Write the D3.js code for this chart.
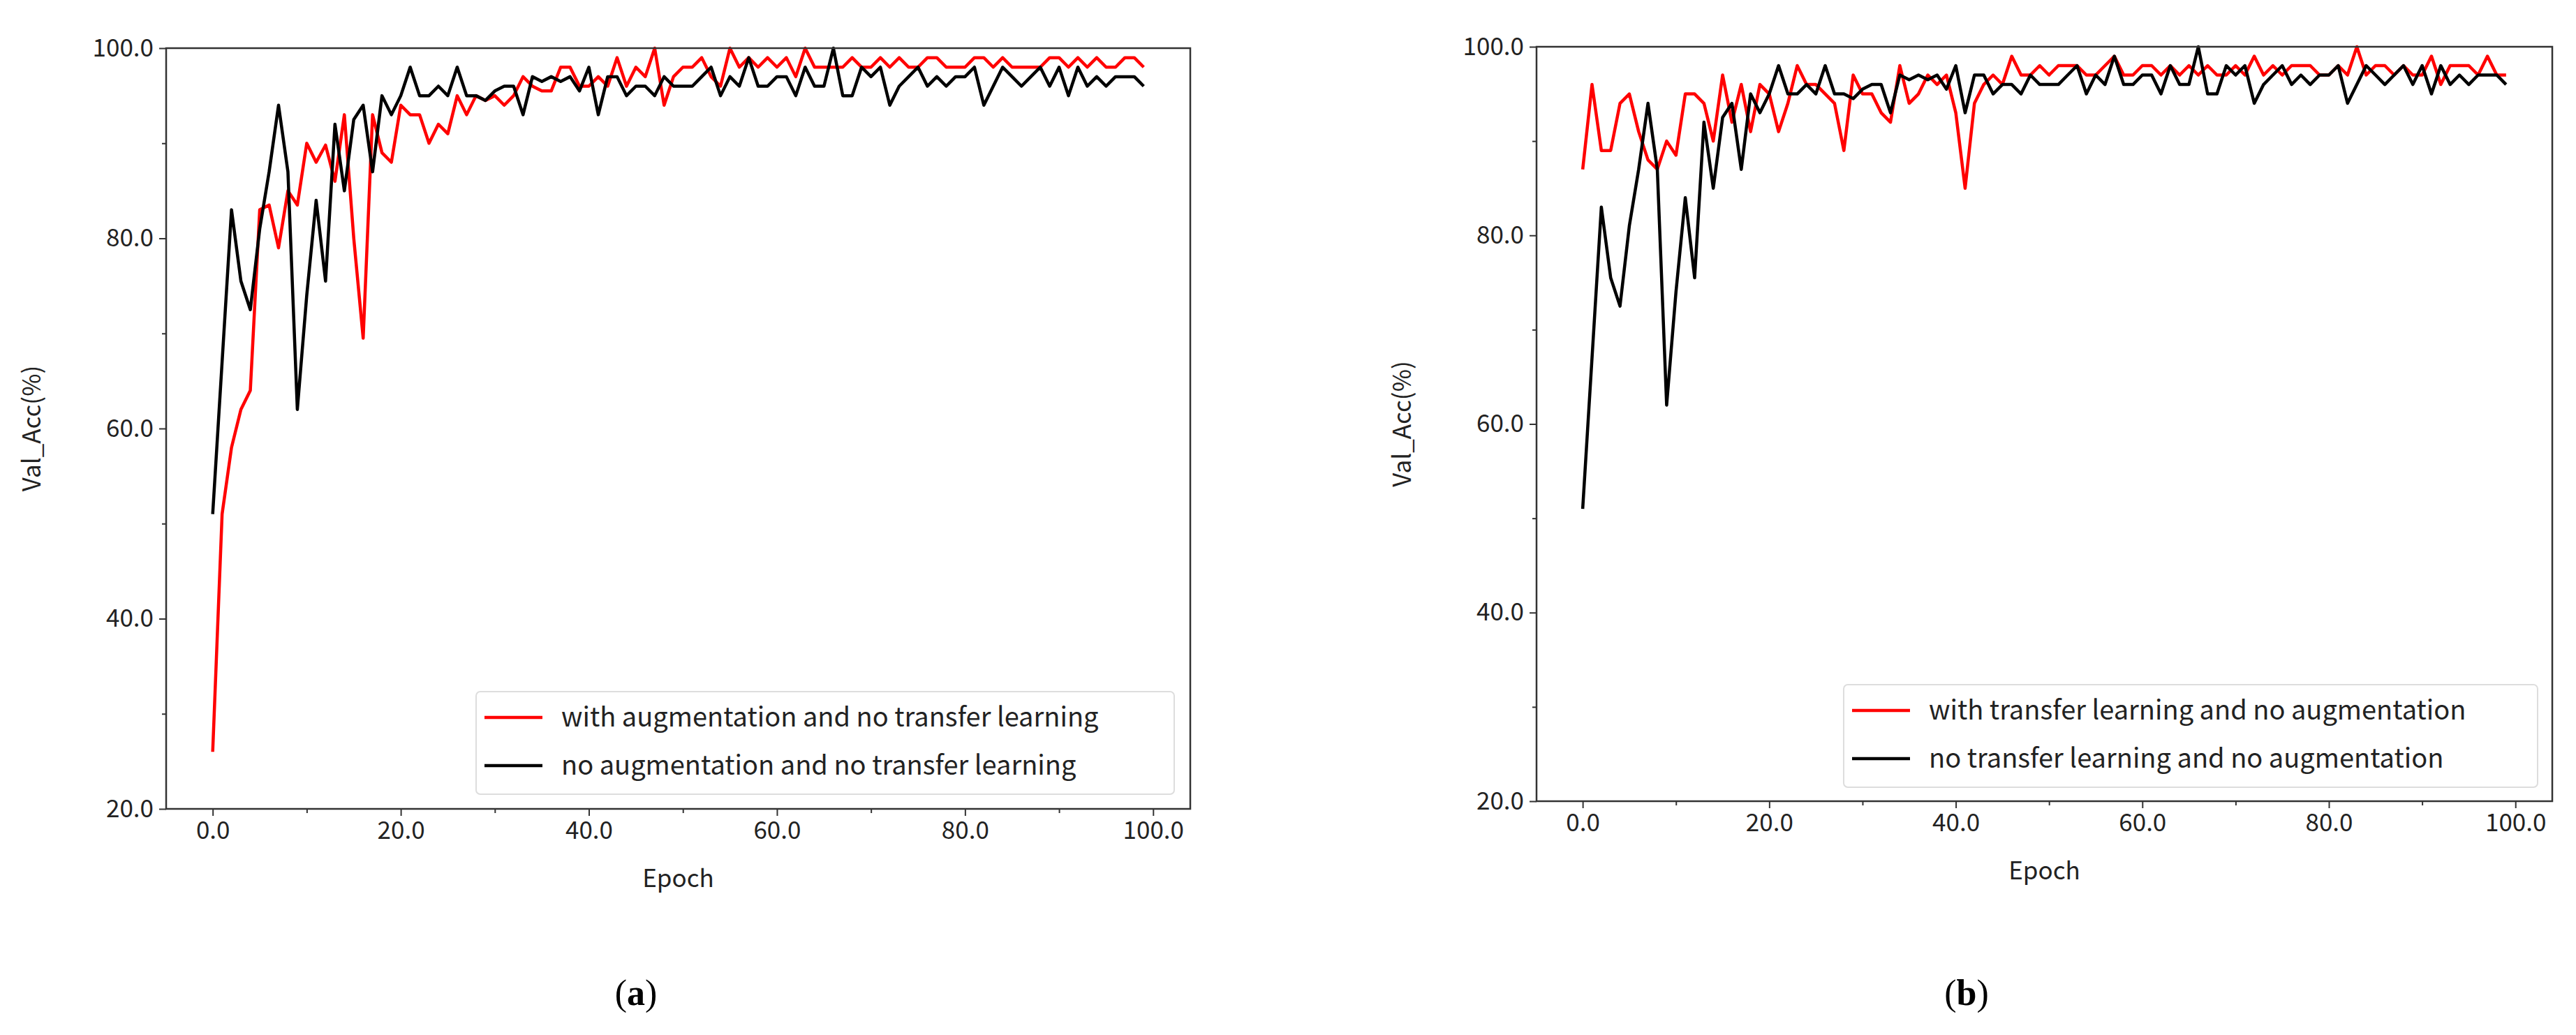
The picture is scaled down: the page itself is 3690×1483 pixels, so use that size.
<!DOCTYPE html>
<html><head><meta charset="utf-8">
<script src="https://cdn.jsdelivr.net/npm/d3@7"></script>
<style>body{margin:0;background:#fff}</style></head><body>
<svg id="c" width="3690" height="1483"></svg>
<script>
const epochs = d3.range(0,100);
const redA = [26,51,58,62,64,83,83.5,79,85,83.5,90,88,89.8,86,93,80,69.5,93,89,88,94,93,93,90,92,91,95,93,95,94.5,95,94,95,97,96,95.5,95.5,98,98,96,96,97,96,99,96,98,97,100,94,97,98,98,99,97,96,100,98,99,98,99,98,99,97,100,98,98,98,98,99,98,98,99,98,99,98,98,99,99,98,98,98,99,99,98,99,98,98,98,98,99,99,98,99,98,99,98,98,99,99,98];
const blackA = [51,67,83,75.5,72.5,81,87,94,87,62,74,84,75.5,92,85,92.5,94,87,95,93,95,98,95,95,96,95,98,95,95,94.5,95.5,96,96,93,97,96.5,97,96.5,97,95.5,98,93,97,97,95,96,96,95,97,96,96,96,97,98,95,97,96,99,96,96,97,97,95,98,96,96,100,95,95,98,97,98,94,96,97,98,96,97,96,97,97,98,94,96,98,97,96,97,98,96,98,95,98,96,97,96,97,97,97,96];
const redB = [87,96,89,89,94,95,91,88,87,90,88.5,95,95,94,90,97,92,96,91,96,95,91,94,98,96,96,95,94,89,97,95,95,93,92,98,94,95,97,96,97,93,85,94,96,97,96,99,97,97,98,97,98,98,98,97,97,98,99,97,97,98,98,97,98,97,98,97,98,97,97,98,97,99,97,98,97,98,98,98,97,97,98,97,100,97,98,98,97,98,97,97,99,96,98,98,98,97,99,97,97];
const blackB = blackA;
const yTicks = [20,40,60,80,100];
const xTicks = [0,20,40,60,80,100];
const panels = [
 {x0:238,x1:1705,y0:69,y1:1159,red:redA,black:blackA,labels:["with augmentation and no transfer learning","no augmentation and no transfer learning"],leg:[682,991,1000,147],tag:"a",tagX:911},
 {x0:2201,x1:3656,y0:67,y1:1148,red:redB,black:blackB,labels:["with transfer learning and no augmentation","no transfer learning and no augmentation"],leg:[2641,981,994,147],tag:"b",tagX:2817}
];
const svg = d3.select("#c");
const F = "'Noto Sans CJK SC','Noto Sans',sans-serif";
panels.forEach(p=>{
  const x = d3.scaleLinear().domain([-4.95,103.95]).range([p.x0,p.x1]);
  const y = d3.scaleLinear().domain([20,100]).range([p.y1,p.y0]);
  const g = svg.append("g");
  const line = d3.line().x((d,i)=>x(epochs[i])).y(d=>y(d));
  g.append("path").datum(p.red).attr("d",line).attr("fill","none").attr("stroke","#ff0000").attr("stroke-width",4.5).attr("stroke-linejoin","round");
  g.append("path").datum(p.black).attr("d",line).attr("fill","none").attr("stroke","#000").attr("stroke-width",4.5).attr("stroke-linejoin","round");
  g.append("g").attr("transform",`translate(0,${p.y1})`).call(d3.axisBottom(x).tickValues(xTicks).tickFormat(d3.format(".1f")).tickSize(10).tickPadding(8));
  g.append("g").attr("transform",`translate(0,${p.y1})`).call(d3.axisBottom(x).tickValues([10,30,50,70,90]).tickFormat("").tickSize(6)).select(".domain").remove();
  g.append("g").attr("transform",`translate(${p.x0},0)`).call(d3.axisLeft(y).tickValues(yTicks).tickFormat(d3.format(".1f")).tickSize(10).tickPadding(8));
  g.append("g").attr("transform",`translate(${p.x0},0)`).call(d3.axisLeft(y).tickValues([30,50,70,90]).tickFormat("").tickSize(6)).select(".domain").remove();
  g.selectAll(".tick text").attr("font-size",35).attr("font-family",F).attr("fill","#222");
  g.selectAll(".tick line").attr("stroke","#333").attr("stroke-width",2);
  g.selectAll(".domain").remove();
  g.append("rect").attr("x",p.x0).attr("y",p.y0).attr("width",p.x1-p.x0).attr("height",p.y1-p.y0).attr("fill","none").attr("stroke","#333").attr("stroke-width",2.5);
  g.append("text").attr("x",(p.x0+p.x1)/2).attr("y",p.y1+112).attr("text-anchor","middle").attr("font-size",35).attr("font-family",F).attr("fill","#222").text("Epoch");
  g.append("text").attr("transform",`translate(${p.x0-180},${(p.y0+p.y1)/2}) rotate(-90)`).attr("text-anchor","middle").attr("font-size",35).attr("font-family",F).attr("fill","#222").text("Val_Acc(%)");
  const [lx,ly,lw,lh]=p.leg;
  g.append("rect").attr("x",lx).attr("y",ly).attr("width",lw).attr("height",lh).attr("rx",6).attr("fill","#fff").attr("stroke","#ddd").attr("stroke-width",2);
  [["#ff0000",p.labels[0]],["#000",p.labels[1]]].forEach((s,i)=>{
    const yy = ly+37+i*69;
    g.append("line").attr("x1",lx+12).attr("x2",lx+95).attr("y1",yy).attr("y2",yy).attr("stroke",s[0]).attr("stroke-width",4.5);
    g.append("text").attr("x",lx+122).attr("y",yy+13).attr("font-size",38).attr("font-family",F).attr("fill","#222").text(s[1]);
  });
  const t = svg.append("text").attr("x",p.tagX).attr("y",1440).attr("text-anchor","middle").attr("font-size",52).attr("font-family","'Liberation Serif',serif");
  t.append("tspan").text("(");
  t.append("tspan").attr("font-weight","bold").text(p.tag);
  t.append("tspan").text(")");
});
</script></body></html>
